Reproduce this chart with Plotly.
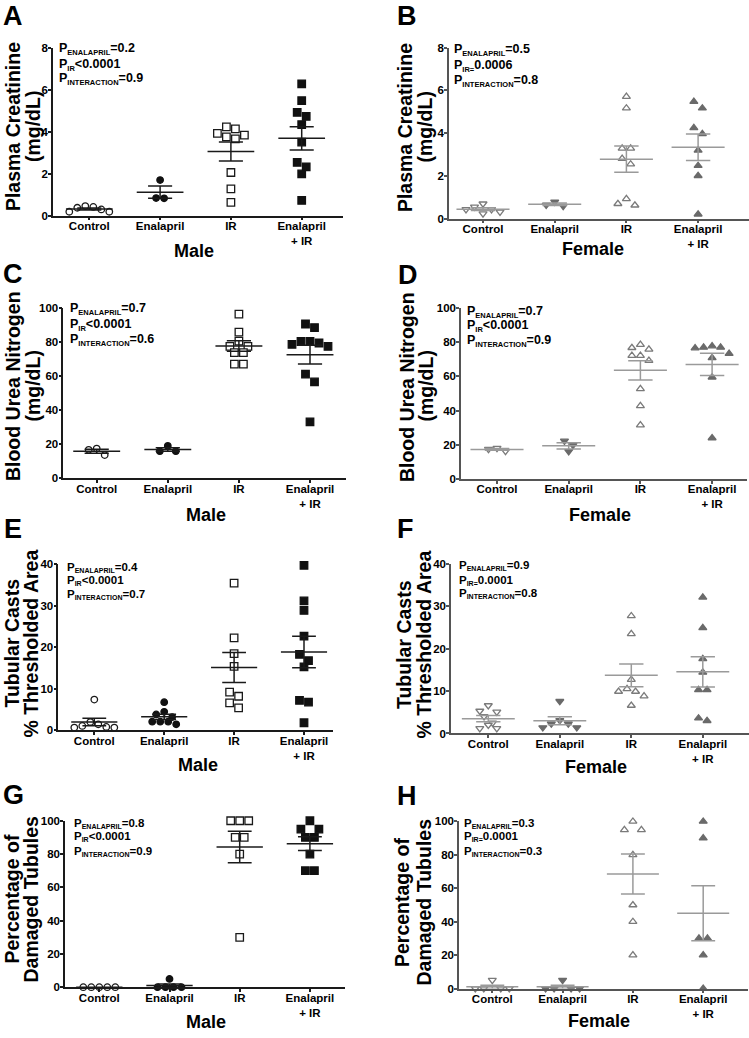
import numpy as np
import plotly.graph_objects as go

# ---------------- data ----------------
categories = ["Control", "Enalapril", "IR", "Enalapril<br>+ IR"]

# A: male plasma creatinine (mg/dL)
a_control = [0.41, 0.29, 0.18, 0.18, 0.37, 0.45]
a_enalapril = [1.69, 0.82, 0.83]
a_ir = [4.22, 4.13, 3.91, 3.83, 3.75, 3.65, 2.05, 1.27, 0.63]
a_enal_ir = [6.27, 5.47, 4.91, 4.72, 4.33, 3.50, 2.53, 2.32, 1.98, 0.72]

# B: female plasma creatinine (mg/dL)
b_control = [0.54, 0.43, 0.69, 0.23, 0.31, 0.43]
b_enalapril = [0.78, 0.58, 0.63]
b_ir = [5.70, 5.16, 3.28, 3.28, 2.80, 2.54, 0.92, 0.62, 0.69]
b_enal_ir = [5.47, 5.16, 4.24, 3.96, 3.19, 2.47, 2.00, 0.20]

# C: male blood urea nitrogen (mg/dL)
c_control = [17.4, 13.6, 16.7]
c_enalapril = [19.0, 15.9, 15.9]
c_ir = [96.5, 85.9, 80.6, 77.5, 77.5, 73.8, 73.8, 67.1, 67.1]
c_enal_ir = [90.7, 88.6, 80.4, 79.5, 77.5, 78.7, 80.4, 61.2, 56.6, 33.1]

# D: female blood urea nitrogen (mg/dL)
d_control = [18.0, 16.2, 17.4]
d_enalapril = [16.0, 22.2, 19.7]
d_ir = [78.6, 75.9, 76.8, 72.2, 72.2, 69.3, 52.7, 42.7, 31.5]
d_enal_ir = [77.8, 76.6, 77.0, 77.0, 73.4, 70.9, 59.5, 23.9]

# E: male tubular casts (% thresholded area)
e_control = [7.4, 1.43, 0.64, 0.64, 0.80, 1.03, 1.99]
e_enalapril = [6.76, 4.45, 3.82, 3.18, 2.07, 1.43, 2.07, 2.07]
e_ir = [35.5, 22.3, 18.5, 15.4, 9.2, 8.2, 6.6, 5.4]
e_enal_ir = [39.8, 31.2, 28.9, 22.7, 18.3, 15.3, 16.8, 7.2, 6.8, 1.8]

# F: female tubular casts (% thresholded area)
f_control = [6.6, 5.3, 5.1, 4.0, 2.5, 2.0, 1.2, 1.2]
f_enalapril = [7.6, 3.1, 2.3, 1.4, 1.4, 2.3]
f_ir = [27.7, 23.5, 12.7, 10.5, 9.9, 9.9, 8.8, 6.6]
f_enal_ir = [32.1, 24.9, 17.6, 14.4, 10.3, 10.3, 3.0, 3.6]

# G: male percentage of damaged tubules
g_control = [0, 0, 0, 0, 0]
g_enalapril = [5, 0, 0, 0, 0]
g_ir = [100, 100, 100, 90, 90, 80, 30]
g_enal_ir = [100, 95, 95, 90, 90, 80, 70, 70]

# H: female percentage of damaged tubules
h_control = [5, 0, 0, 0, 0]
h_enalapril = [5, 0, 0, 0, 0]
h_ir = [100, 95, 95, 80, 50, 40, 20]
h_enal_ir = [100, 90, 30, 30, 20, 0]

# two-way ANOVA p values
p_enalapril = ["0.2", "0.5", "0.7", "0.7", "0.4", "0.9", "0.8", "0.3"]
p_ir = ["<0.0001", "=0.0006", "<0.0001", "<0.0001", "<0.0001", "=0.0001", "<0.0001", "=0.0001"]
p_interaction = ["0.9", "0.8", "0.6", "0.9", "0.7", "0.8", "0.9", "0.3"]

y_titles = [("Plasma Creatinine", "(mg/dL)")] * 2 + [("Blood Urea Nitrogen", "(mg/dL)")] * 2 + \
           [("Tubular Casts", "% Thresholded Area")] * 2 + [("Percentage of", "Damaged Tubules")] * 2

# ---------------- layout (pixels) ----------------
W, H = 749, 1038
FONT = "Arial, Liberation Sans, Helvetica, sans-serif"

panels = [
    dict(letter="A", sex="Male", data=[a_control, a_enalapril, a_ir, a_enal_ir], ymax=8, dtick=2,
         xdom=(53, 343), ydom=(42, 212), c0=89.3, sp=70.8, yt_x=(12.5, 32.5), yt_y=122,
         lxy=(12.5, 13), xtxy=(194, 250), px=56.7, py=(46.7, 62.3, 77.3), pfs=(12.5, 7.5)),
    dict(letter="B", sex="Female", data=[b_control, b_enalapril, b_ir, b_enal_ir], ymax=8, dtick=2,
         xdom=(449, 749), ydom=(42, 215), c0=483, sp=71.7, yt_x=(404.5, 425), yt_y=123,
         lxy=(407, 13), xtxy=(593, 248), px=451.7, py=(47.7, 63.3, 79), pfs=(12.5, 7.5)),
    dict(letter="C", sex="Male", data=[c_control, c_enalapril, c_ir, c_enal_ir], ymax=100, dtick=20,
         xdom=(63.3, 346), ydom=(305.7, 477.7), c0=96.7, sp=71.1, yt_x=(12.5, 33), yt_y=385,
         lxy=(13, 274), xtxy=(206, 517), px=68.3, py=(310, 325.7, 341), pfs=(12.5, 7.5)),
    dict(letter="D", sex="Female", data=[d_control, d_enalapril, d_ir, d_enal_ir], ymax=100, dtick=20,
         xdom=(461, 747), ydom=(305.7, 478.3), c0=497, sp=71.7, yt_x=(406.5, 426), yt_y=385,
         lxy=(408, 275), xtxy=(600, 517), px=465, py=(312.3, 326.7, 341.7), pfs=(12.5, 7.5)),
    dict(letter="E", sex="Male", data=[e_control, e_enalapril, e_ir, e_enal_ir], ymax=40, dtick=10,
         xdom=(58.3, 333), ydom=(565, 732.7), c0=94.3, sp=69.9, yt_x=(12, 31), yt_y=645,
         lxy=(12.5, 532), xtxy=(198, 770), px=65, py=(571, 584.5, 598.3), pfs=(11.5, 7)),
    dict(letter="F", sex="Female", data=[f_control, f_enalapril, f_ir, f_enal_ir], ymax=40, dtick=10,
         xdom=(451, 749), ydom=(564.3, 736), c0=488.3, sp=71.5, yt_x=(403.5, 424), yt_y=646,
         lxy=(405, 532), xtxy=(596, 772), px=456.7, py=(569, 584, 597.3), pfs=(11.5, 7)),
    dict(letter="G", sex="Male", data=[g_control, g_enalapril, g_ir, g_enal_ir], ymax=100, dtick=20,
         xdom=(65, 345), ydom=(824.3, 992.7), c0=99.3, sp=70.2, yt_x=(12, 31), yt_y=904,
         lxy=(13, 801), xtxy=(206, 1030), px=71.7, py=(830, 843.3, 858.3), pfs=(11.5, 7)),
    dict(letter="H", sex="Female", data=[h_control, h_enalapril, h_ir, h_enal_ir], ymax=100, dtick=20,
         xdom=(459, 748), ydom=(825, 994), c0=492.3, sp=70.3, yt_x=(401.5, 424), yt_y=907,
         lxy=(407, 802), xtxy=(599, 1029), px=461.7, py=(830, 843.3, 858.3), pfs=(11.5, 7)),
]

STYLE = {
    "Male": dict(axis="#1a1a1a", line="#1a1a1a", open_line="#1a1a1a", fill="#111111",
                 symbols=["circle", "circle", "square", "square"], sizes=[6.5, 6.5, 7.5, 7.5],
                 half=0.33, cap=0.17),
    "Female": dict(axis="#555555", line="#9a9a9a", open_line="#7a7a7a", fill="#6a6a6a",
                   symbols=["triangle-down", "triangle-down", "triangle-up", "triangle-up"],
                   sizes=[7, 7, 7, 7], half=0.37, cap=0.17),
}


def swarm_offsets(values, px_per_unit, d):
    """Row-based centred dot-plot spreading (in pixels)."""
    vals = np.asarray(values, dtype=float)
    order = np.argsort(-vals, kind="stable")
    offs = np.zeros(len(vals))
    rows, cur = [], []
    for i in order:
        if cur and (vals[cur[0]] - vals[i]) * px_per_unit >= d:
            rows.append(cur)
            cur = []
        cur.append(i)
    if cur:
        rows.append(cur)
    for row in rows:
        n = len(row)
        slots = sorted([(k - (n - 1) / 2) * d for k in range(n)], key=lambda s: (abs(s), s))
        for idx, s in zip(row, slots):
            offs[idx] = s
    return offs


fig = go.Figure()
annotations = []


def ann(text, x, y, size, **kw):
    base = dict(text=text, x=x / W, y=1 - y / H, xref="paper", yref="paper", showarrow=False,
                font=dict(family=FONT, size=size, color="black", weight="bold"))
    base.update(kw)
    annotations.append(base)


for k, p in enumerate(panels):
    n = k + 1
    xa, ya = f"x{n}", f"y{n}"
    st = STYLE[p["sex"]]
    x0, x1 = p["xdom"]
    ytop, ybot = p["ydom"]
    xr = [(x0 - p["c0"]) / p["sp"], (x1 - p["c0"]) / p["sp"]]
    px_per_unit = (ybot - ytop) / p["ymax"]

    for gi, vals in enumerate(p["data"]):
        d = st["sizes"][gi] + 1.5
        offs = swarm_offsets(vals, px_per_unit, d) / p["sp"]
        filled = gi in (1, 3)
        marker = dict(symbol=st["symbols"][gi], size=st["sizes"][gi],
                      color=st["fill"] if filled else "white",
                      line=dict(color=st["fill"] if filled else st["open_line"], width=1.3))
        fig.add_trace(go.Scatter(x=gi + offs, y=vals, mode="markers", marker=marker,
                                 cliponaxis=False, showlegend=False, hoverinfo="skip",
                                 xaxis=xa, yaxis=ya))

    lx, ly = [], []
    for gi, vals in enumerate(p["data"]):
        v = np.asarray(vals, dtype=float)
        m = v.mean()
        s = v.std(ddof=1) / np.sqrt(len(v))
        lx += [gi - st["half"], gi + st["half"], None]
        ly += [m, m, None]
        if s > 0:
            lx += [gi, gi, None, gi - st["cap"], gi + st["cap"], None, gi - st["cap"], gi + st["cap"], None]
            ly += [m - s, m + s, None, m + s, m + s, None, m - s, m - s, None]
    fig.add_trace(go.Scatter(x=lx, y=ly, mode="lines", line=dict(color=st["line"], width=1.5),
                             cliponaxis=False, showlegend=False, hoverinfo="skip",
                             xaxis=xa, yaxis=ya))

    tickfont = dict(family=FONT, size=11.5, color="black", weight="bold")
    fig.update_layout(**{
        f"xaxis{n}": dict(domain=[x0 / W, x1 / W], range=xr, anchor=ya, showline=True,
                          linecolor=st["axis"], linewidth=1.5, ticks="outside", ticklen=3,
                          tickwidth=1.5, tickcolor=st["axis"], tickvals=[0, 1, 2, 3],
                          ticktext=categories, tickfont=tickfont, showgrid=False,
                          ticklabelstandoff=-4, zeroline=False, fixedrange=True),
        f"yaxis{n}": dict(domain=[1 - ybot / H, 1 - ytop / H], range=[0, p["ymax"]], anchor=xa,
                          showline=True, linecolor=st["axis"], linewidth=1.5, ticks="outside",
                          ticklen=3, tickwidth=1.5, tickcolor=st["axis"], dtick=p["dtick"],
                          tick0=0, tickfont=tickfont, showgrid=False, zeroline=False,
                          ticklabelstandoff=-2, fixedrange=True),
    })

    # panel letter
    ann(p["letter"], p["lxy"][0], p["lxy"][1] - 3, 27, xanchor="center", yanchor="middle")
    # y-axis titles (two lines)
    ann(y_titles[k][0], p["yt_x"][0], p["yt_y"], 19.5, textangle=-90, xanchor="center", yanchor="middle")
    ann(y_titles[k][1], p["yt_x"][1], p["yt_y"], 19.5, textangle=-90, xanchor="center", yanchor="middle")
    # x-axis title
    ann(p["sex"], p["xtxy"][0], p["xtxy"][1] - 2, 18, xanchor="center", yanchor="middle")
    # p values
    big, small = p["pfs"]

    def sub(t):
        return f"<sub><span style='font-size:{small}px'>{t}</span></sub>"

    ir = p_ir[k]
    ir_txt = ("P" + sub("IR=") + ir[1:]) if ir.startswith("=") else ("P" + sub("IR") + "&lt;" + ir[1:])
    lines = ["P" + sub("ENALAPRIL") + "=" + p_enalapril[k], ir_txt,
             "P" + sub("INTERACTION") + "=" + p_interaction[k]]
    for t, yy in zip(lines, p["py"]):
        ann(t, p["px"], yy - 3, big, xanchor="left", yanchor="middle")

fig.update_layout(width=W, height=H, margin=dict(l=0, r=0, t=0, b=0), paper_bgcolor="white",
                  plot_bgcolor="white", annotations=annotations, showlegend=False)

fig.write_html("out.html", config={"displayModeBar": False},
               post_script="document.body.style.margin='0px';document.body.style.padding='0px';")
